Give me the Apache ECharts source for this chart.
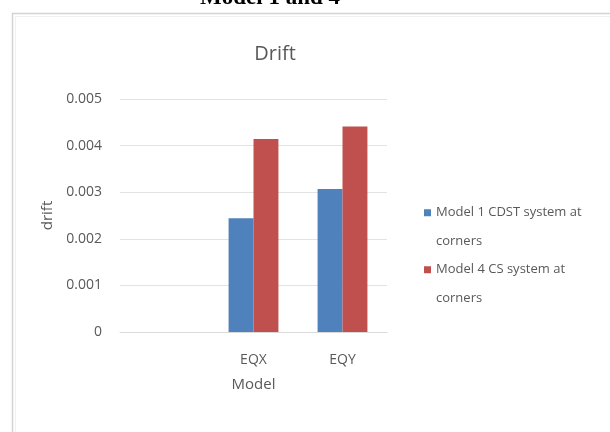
<!DOCTYPE html>
<html>
<head>
<meta charset="utf-8">
<script src="https://cdn.jsdelivr.net/npm/echarts@6/dist/echarts.min.js"></script>
<style>
html,body{margin:0;padding:0;background:#fff;}
#c{width:610px;height:432px;}
</style>
</head>
<body>
<div id="c"></div>
<script>
var categories = ['', 'EQX', 'EQY'];
var seriesNames = ['Model 1 CDST system at corners', 'Model 4 CS system at corners'];
var legendLines = [['Model 1 CDST system at', 'corners'], ['Model 4 CS system at', 'corners']];
var model1 = [null, 0.00244, 0.00307];
var model4 = [null, 0.00414, 0.00441];
var yTicks = [0, 0.001, 0.002, 0.003, 0.004, 0.005];

var chart = echarts.init(document.getElementById('c'), null, {renderer: 'canvas'});
var txt = '#595959';
var font = '"Open Sans", "Noto Sans", sans-serif';
chart.setOption({
  animation: false,
  backgroundColor: '#fff',
  graphic: [
    {type: 'rect', left: 10, top: 11, shape: {width: 640, height: 450},
     style: {fill: 'none', stroke: '#d4d4d4', lineWidth: 1.5}, z: 0},
    {type: 'rect', left: 13, top: 14, shape: {width: 640, height: 450},
     style: {fill: 'none', stroke: '#f0f0f0', lineWidth: 1}, z: 0},
    {type: 'text', x: 270, y: 10,
     style: {text: 'Model 1 and 4', font: 'bold 23px "Liberation Serif", serif', fill: '#000', align: 'center', verticalAlign: 'bottom'}, z: 10}
  ],
  title: {
    text: 'Drift', left: 270, top: 39, textAlign: 'center',
    textStyle: {fontSize: 20, fontWeight: 'normal', color: txt, fontFamily: font}
  },
  legend: {
    orient: 'vertical', left: 419, top: 165,
    itemWidth: 7, itemHeight: 7, itemGap: -28.5,
    icon: 'rect',
    textStyle: {color: txt, fontSize: 13, fontFamily: font, lineHeight: 28.5},
    formatter: function (name) {
      var i = seriesNames.indexOf(name);
      return ' \n' + legendLines[i].join('\n');
    },
    data: seriesNames
  },
  grid: {left: 120, right: 223, top: 99, bottom: 100, containLabel: false},
  xAxis: {
    type: 'category', data: categories,
    name: 'Model', nameLocation: 'middle', nameGap: 45,
    nameTextStyle: {color: txt, fontSize: 15, fontFamily: font},
    axisLine: {lineStyle: {color: '#d9d9d9'}},
    axisTick: {show: false},
    axisLabel: {color: txt, fontSize: 14, margin: 21, fontFamily: font}
  },
  yAxis: {
    type: 'value', min: 0, max: 0.005, interval: 0.001,
    name: 'drift', nameLocation: 'middle', nameGap: 65,
    nameTextStyle: {color: txt, fontSize: 15, fontFamily: font},
    axisLine: {show: false}, axisTick: {show: false},
    splitLine: {lineStyle: {color: '#e3e3e3'}},
    axisLabel: {color: txt, fontSize: 14, margin: 18, fontFamily: font,
      formatter: function (v) { return yTicks.indexOf(v) >= 0 ? (v === 0 ? '0' : v.toFixed(3)) : ''; }}
  },
  series: [
    {name: seriesNames[0], type: 'bar', data: model1, itemStyle: {color: '#4F81BD'},
     barGap: '0%', barCategoryGap: '44%'},
    {name: seriesNames[1], type: 'bar', data: model4, itemStyle: {color: '#C0504D'},
     barGap: '0%', barCategoryGap: '44%'}
  ]
});
</script>
</body>
</html>
